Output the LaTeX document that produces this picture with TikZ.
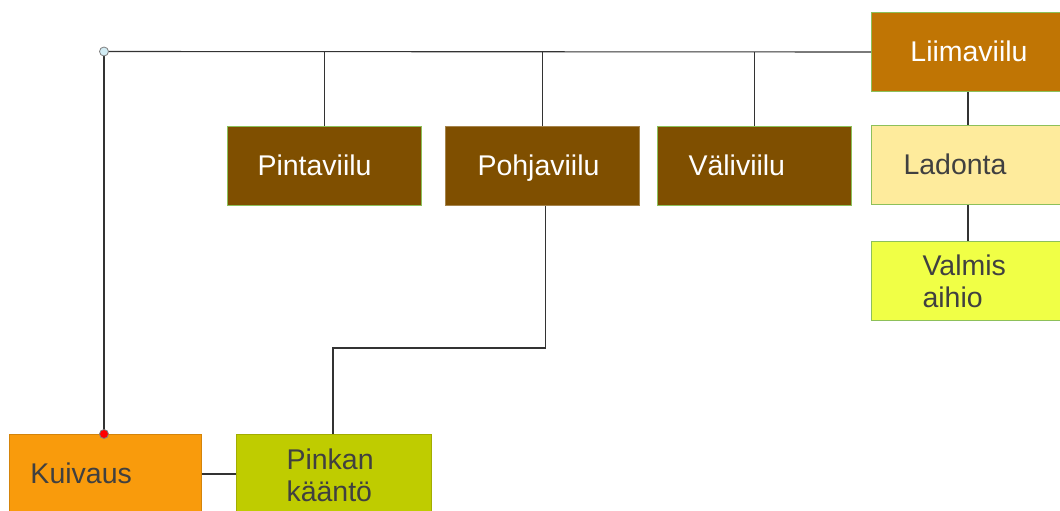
\documentclass[tikz,border=0pt]{standalone}
\usepackage{fontspec}
\setmainfont{Liberation Sans}
\definecolor{liima}{HTML}{C07504}
\definecolor{viilu}{HTML}{7F4F00}
\definecolor{ladonta}{HTML}{FEEB9C}
\definecolor{valmis}{HTML}{F0FF46}
\definecolor{kuiv}{HTML}{F99B0C}
\definecolor{pinkan}{HTML}{BFCC00}
\definecolor{txtgray}{HTML}{404040}
\definecolor{bordgreen}{HTML}{8DC05A}
\definecolor{dotblue}{HTML}{D2ECF4}
\tikzset{
  box/.style={draw=bordgreen, line width=1pt, minimum height=79pt, inner xsep=0pt, inner ysep=0pt,
    font=\fontsize{28.5}{32}\selectfont, align=left, anchor=north west},
  oneline/.style={text height=22.5pt, text depth=3.5pt},
  dark/.style={box, oneline, fill=viilu, text=white},
  conn/.style={draw=black!80, line width=1.1pt},
  dot/.style={circle, draw=gray, line width=0.8pt, inner sep=0pt, minimum size=9pt}
}
\begin{document}
\begin{tikzpicture}[x=1pt,y=-1pt]
\useasboundingbox (0,0) rectangle (1060,511);
\clip (0,0) rectangle (1060,511);
\node[box, oneline, fill=liima, text=white, minimum width=195pt, text width=195pt, align=center] (liima) at (871,12) {Liimaviilu};
\node[box, oneline, fill=ladonta, text=txtgray, minimum width=195pt, text width=131pt] (ladonta) at (871,125) {Ladonta};
\node[box, fill=valmis, text=txtgray, minimum width=195pt, text width=93pt] (valmis) at (871,241) {Valmis\\aihio};
\node[dark, minimum width=194pt, text width=134pt] (pinta) at (227,126) {Pintaviilu};
\node[dark, draw=viilu!70!white, minimum width=194pt, text width=130pt] (pohja) at (445,126) {Pohjaviilu};
\node[dark, minimum width=194pt, text width=132pt] (vali) at (657,126) {Väliviilu};
\node[box, oneline, fill=kuiv, draw=kuiv!85!black, text=txtgray, minimum width=192pt, text width=150pt] (kuiv) at (9,434) {Kuivaus};
\node[box, fill=pinkan, draw=pinkan!85!black, text=txtgray, minimum width=195pt, text width=95pt, minimum height=81pt] (pinkan) at (236,434) {Pinkan\\kääntö};
\coordinate (corner) at (104,51.5);
\coordinate (bend) at (333,348);
\draw[conn] (corner) -- (liima.west);
\draw[conn] (corner) -- (corner |- kuiv.north);
\draw[conn] (pinta.north) -- (pinta.north |- liima.west);
\draw[conn] (pohja.north) -- (pohja.north |- liima.west);
\draw[conn] (vali.north) -- (vali.north |- liima.west);
\draw[conn] (liima.south -| 968,0) -- (ladonta.north -| 968,0);
\draw[conn] (ladonta.south -| 968,0) -- (valmis.north -| 968,0);
\draw[conn] ([xshift=3pt]pohja.south) |- (bend) -- (bend |- pinkan.north);
\draw[conn] (kuiv.east) -- (kuiv.east -| pinkan.west);
\node[dot, fill=dotblue] (topdot) at (corner) {};
\node[dot, fill=red] (reddot) at (corner |- kuiv.north) {};
\end{tikzpicture}
\end{document}
